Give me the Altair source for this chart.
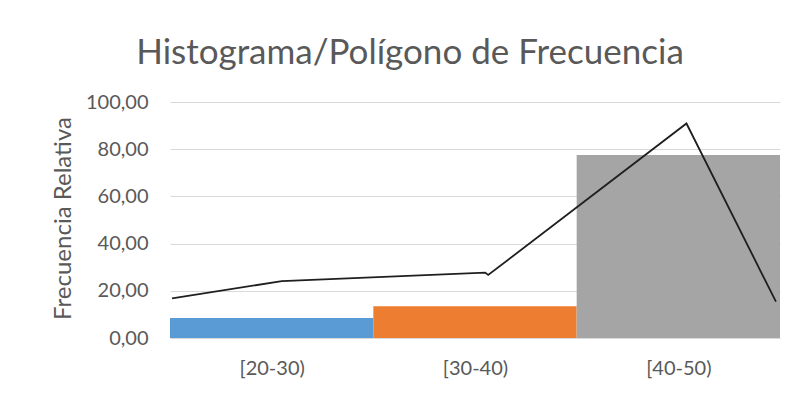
import altair as alt
import pandas as pd

categories = ["[20-30)", "[30-40)", "[40-50)"]
rel_freq = [8.5, 13.5, 77.5]
bar_colors = ["#5B9BD5", "#ED7D31", "#A5A5A5"]
poly_x = [0.01, 0.55, 1.55, 1.565, 2.54, 2.98]
poly_y = [16.8, 24.1, 27.7, 26.7, 90.9, 15.4]
y_ticks = [0, 20, 40, 60, 80, 100]
x_ticks = [0.5, 1.5, 2.5]

bars_df = pd.DataFrame({
    "clase": categories,
    "frecuencia": rel_freq,
    "inicio": list(range(len(categories))),
    "fin": [i + 1 for i in range(len(categories))],
})
poly_df = pd.DataFrame({"px": poly_x, "py": poly_y, "orden": list(range(len(poly_x)))})

label_list = ",".join("'%s'" % c for c in categories)
x_label_expr = f"[{label_list}][floor(datum.value)]"

FONT = "Lato"
TXT = "#595959"

x_scale = alt.Scale(domain=[0, 3], nice=False, zero=False, padding=0)
y_scale = alt.Scale(domain=[0, 100], nice=False, padding=0)

bars = alt.Chart(bars_df).mark_bar(strokeWidth=0, orient="vertical").encode(
    x=alt.X("inicio:Q", scale=x_scale,
            axis=alt.Axis(values=x_ticks, labelExpr=x_label_expr, title=None, grid=False,
                          ticks=False, domain=False, labelPadding=20, labelFontSize=20,
                          labelColor=TXT, labelFont=FONT)),
    x2="fin:Q",
    y=alt.Y("frecuencia:Q", scale=y_scale,
            axis=alt.Axis(values=y_ticks,
                          labelExpr="replace(format(datum.value, '.2f'), '.', ',')",
                          title="Frecuencia Relativa", titleFont=FONT, titleFontSize=24,
                          titleFontWeight="normal", titleColor=TXT,
                          titleX=-107, titleY=116, titleBaseline="middle", titleAlign="center",
                          grid=True, gridColor="#D9D9D9", gridWidth=1,
                          ticks=False, domain=False, labelPadding=22, labelFontSize=20,
                          labelColor=TXT, labelFont=FONT)),
    y2=alt.datum(0),
    color=alt.Color("clase:N", scale=alt.Scale(domain=categories, range=bar_colors), legend=None),
)

line = alt.Chart(poly_df).mark_line(color="#1f1f1f", strokeWidth=1.8).encode(
    x=alt.X("px:Q", scale=x_scale),
    y=alt.Y("py:Q", scale=y_scale),
    order="orden:Q",
)

chart = alt.layer(bars, line).properties(
    width=610,
    height=236,
    autosize="none",
    padding={"left": 162, "top": 94, "right": 4, "bottom": 50},
    title=alt.TitleParams(
        "Histograma/Polígono de Frecuencia",
        font=FONT, fontSize=35, fontWeight="normal", color=TXT,
        anchor="middle", dx=-65, dy=5, offset=26,
    ),
).configure_view(stroke=None)

chart.save("out.html", embed_options={"renderer": "svg", "actions": False})
